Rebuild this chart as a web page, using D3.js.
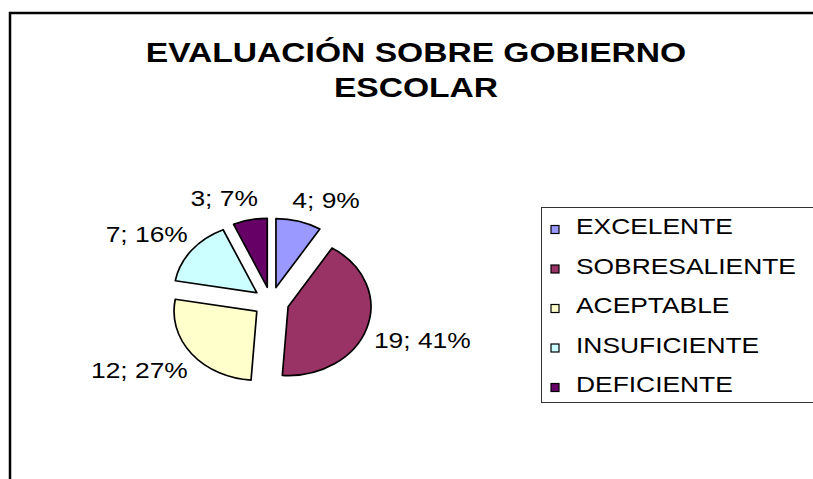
<!DOCTYPE html>
<html>
<head>
<meta charset="utf-8">
<script src="https://cdn.jsdelivr.net/npm/d3@7"></script>
<style>
  body { margin: 0; background: #fff; }
  text { font-family: Arial, "Liberation Sans", sans-serif; fill: #000; }
</style>
</head>
<body>
<svg id="chart"></svg>
<script>
const width = 813, height = 479;

// chart data
const categories = ['EXCELENTE', 'SOBRESALIENTE', 'ACEPTABLE', 'INSUFICIENTE', 'DEFICIENTE'];
const values = [4, 19, 12, 7, 3];
const percents = [9, 41, 27, 16, 7];
const colors = ['#9999FF', '#993366', '#FFFFCC', '#CCFFFF', '#660066'];
const titleLines = ['EVALUACIÓN SOBRE GOBIERNO', 'ESCOLAR'];

// the original picture is stretched horizontally
const sx = 1.2;

const svg = d3.select('#chart')
    .attr('width', width)
    .attr('height', height);

// chart area border (runs off the right and bottom)
svg.append('rect')
    .attr('x', 10).attr('y', 13)
    .attr('width', 900).attr('height', 600)
    .attr('fill', '#fff')
    .attr('stroke', '#000')
    .attr('stroke-width', 2.5);

// title
const title = svg.append('g').attr('transform', `translate(416,0) scale(${sx},1)`);
title.selectAll('text')
    .data(titleLines)
    .join('text')
    .attr('x', 0)
    .attr('y', (d, i) => 62 + i * 35)
    .attr('text-anchor', 'middle')
    .style('font-size', '28px')
    .style('font-weight', 'bold')
    .text(d => d);

// pie
const cx = 271, cy = 302, r = 69, explode = 15;
const pie = d3.pie().sort(null).value(d => d);
const arcs = pie(values);
const arc = d3.arc().innerRadius(0).outerRadius(r);
const mid = d => (d.startAngle + d.endAngle) / 2;

const pieG = svg.append('g').attr('transform', `translate(${cx},${cy}) scale(${sx},1)`);
pieG.selectAll('path')
    .data(arcs)
    .join('path')
    .attr('transform', d => `translate(${explode * Math.sin(mid(d))},${-explode * Math.cos(mid(d))})`)
    .attr('d', arc)
    .attr('fill', (d, i) => colors[i])
    .attr('stroke', '#000')
    .attr('stroke-width', 1.7)
    .attr('stroke-linejoin', 'round')
    .attr('vector-effect', 'non-scaling-stroke');

// data labels, pushed out from the slice edge by their own size
const labels = svg.append('g').selectAll('text')
    .data(arcs)
    .join('text')
    .attr('text-anchor', 'middle')
    .style('font-size', '22px')
    .text((d, i) => `${values[i]}; ${percents[i]}%`);

labels.attr('transform', function(d) {
    const m = mid(d);
    const s = Math.sin(m), c = Math.cos(m);
    const hw = this.getComputedTextLength() * sx / 2;
    const ex = cx + sx * (r + explode) * s;
    const ey = cy - (r + explode) * c;
    const x = ex + Math.sign(s) * (hw - 12 + 20 * Math.abs(s));
    const yc = ey - (c * 14 + Math.sign(c) * 8);
    return `translate(${x},${yc + 8}) scale(${sx},1)`;
});

// legend
const legend = svg.append('g').attr('transform', 'translate(541,207)');
legend.append('rect')
    .attr('x', 0.5).attr('y', 0.5)
    .attr('width', 400).attr('height', 195)
    .attr('fill', '#fff')
    .attr('stroke', '#333')
    .attr('stroke-width', 1);

const y = d3.scalePoint().domain(categories).range([27, 185]);
const item = legend.selectAll('g.item')
    .data(categories)
    .join('g')
    .attr('class', 'item')
    .attr('transform', d => `translate(0,${y(d)})`);
item.append('rect')
    .attr('x', 10).attr('y', -8.5)
    .attr('width', 8).attr('height', 8)
    .attr('fill', (d, i) => colors[i])
    .attr('stroke', '#000')
    .attr('stroke-width', 1.2);
item.append('text')
    .attr('transform', `translate(35,0) scale(${sx},1)`)
    .style('font-size', '22px')
    .text(d => d);
</script>
</body>
</html>
